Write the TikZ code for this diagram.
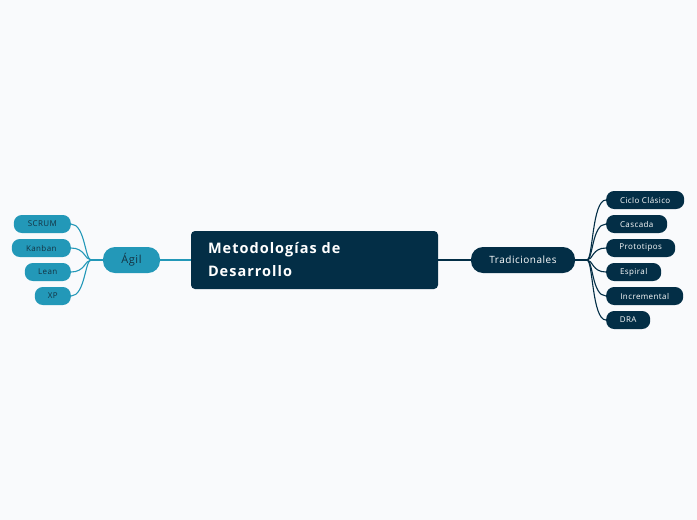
\documentclass[tikz,border=0pt]{standalone}
\usepackage{fontspec}
\setmainfont{Open Sans}
\newfontfamily\spaced[LetterSpace=5]{Open Sans}
\newfontfamily\spacedb[LetterSpace=7]{Open Sans}
\usetikzlibrary{calc}
\definecolor{bg}{RGB}{249,250,252}
\definecolor{navy}{RGB}{3,46,70}
\definecolor{teal}{RGB}{35,152,184}
\definecolor{dtext}{RGB}{20,50,66}
\begin{document}
\begin{tikzpicture}[x=1pt,y=-1pt,
  leafR/.style={fill=navy,text=white,rounded corners=8pt,minimum height=18pt,inner sep=0pt,font=\spaced\fontsize{8}{9}\selectfont,anchor=west},
  leafL/.style={fill=teal,text=dtext,rounded corners=8pt,minimum height=18pt,inner sep=0pt,font=\spaced\fontsize{8}{9}\selectfont,anchor=east},
  conR/.style={navy,line width=1.1pt},
  conL/.style={teal,line width=1.1pt}]
\fill[bg] (0,0) rectangle (697,520);
\useasboundingbox (0,0) rectangle (697,520);
% central
\node[fill=navy,text=white,rounded corners=4pt,minimum width=247pt,minimum height=58pt,inner sep=0pt,text width=213pt,align=left,font=\spacedb\fontsize{14.5}{23}\bfseries\selectfont] (c) at (314.5,260) {Metodologías de\\Desarrollo};
% Agil
\node[fill=teal,text=dtext,rounded corners=12pt,minimum width=57pt,minimum height=26pt,inner sep=0pt,font=\spaced\fontsize{11}{13}\selectfont] (a) at (131.5,260) {Ágil};
% Tradicionales
\node[fill=navy,text=white,rounded corners=12pt,minimum width=104pt,minimum height=26pt,inner sep=0pt,font=\spaced\fontsize{10}{12}\selectfont] (t) at (523,260) {Tradicionales};
\draw[conL] (c.west) -- (a.east);
\draw[conR] (c.east) -- (t.west);
% left leaves
\node[leafL,minimum width=57pt] (l1) at (71,224) {SCRUM};
\node[leafL,minimum width=59pt] (l2) at (71,248) {Kanban};
\node[leafL,minimum width=46pt] (l3) at (71,272) {Lean};
\node[leafL,minimum width=36pt] (l4) at (71,296) {XP};
\coordinate (bl) at (91,260);
\draw[conL] (a.west) -- (bl);
\foreach \n in {l1,l2,l3,l4}{
  \draw[conL] (bl) .. controls +(-6,0) and ($(\n.east)+(14,0)$) .. (\n.east);
}
% right leaves
\node[leafR,minimum width=78pt] (r1) at (606,200) {Ciclo Clásico};
\node[leafR,minimum width=61pt] (r2) at (606,224) {Cascada};
\node[leafR,minimum width=69pt] (r3) at (606,248) {Prototipos};
\node[leafR,minimum width=55pt] (r4) at (606,272) {Espiral};
\node[leafR,minimum width=77pt] (r5) at (606,296) {Incremental};
\node[leafR,minimum width=44pt] (r6) at (606,320) {DRA};
\coordinate (br) at (587,260);
\draw[conR] (t.east) -- (br);
\foreach \n in {r1,r2,r3,r4,r5,r6}{
  \draw[conR] (br) .. controls +(6,0) and ($(\n.west)+(-14,0)$) .. (\n.west);
}
\end{tikzpicture}
\end{document}
